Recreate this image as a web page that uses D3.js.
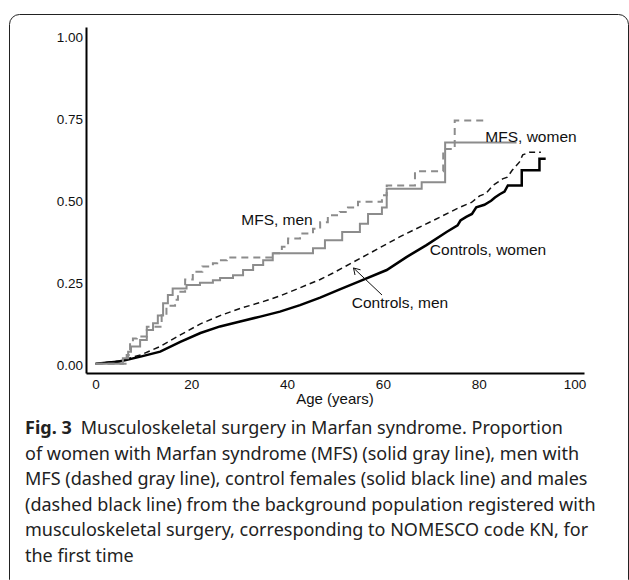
<!DOCTYPE html>
<html>
<head>
<meta charset="utf-8">
<script src="https://cdn.jsdelivr.net/npm/d3@7"></script>
<style>
  body { margin: 0; background: #fff; }
  svg { display: block; }
</style>
</head>
<body>
<svg id="chart" width="629" height="580"></svg>
<script>
// age (years), cumulative proportion
const mfsWomen = [
  [0, 0.003], [5.7, 0.02], [6.8, 0.04], [7.4, 0.056], [9.3, 0.076], [10.7, 0.106],
  [12.0, 0.127], [13.0, 0.15], [14.1, 0.188], [15.1, 0.213], [16.1, 0.233],
  [19.0, 0.243], [21.8, 0.25], [24.5, 0.258], [26.0, 0.265], [28.7, 0.273],
  [30.8, 0.289], [32.9, 0.304], [35.0, 0.319], [37.0, 0.34], [45.4, 0.355],
  [47.9, 0.38], [51.5, 0.405], [55.2, 0.43], [56.9, 0.46], [59.8, 0.48],
  [60.8, 0.537], [68.1, 0.557], [73.0, 0.678], [87.9, 0.678]
];
const mfsMen = [
  [0, 0.003], [6.5, 0.03], [7.2, 0.067], [7.8, 0.08], [8.6, 0.086], [10.7, 0.116],
  [13.8, 0.152], [14.8, 0.18], [16.6, 0.198], [17.2, 0.223], [18.7, 0.26],
  [20.3, 0.284], [22.3, 0.30], [24.5, 0.31], [25.4, 0.319], [27.4, 0.327],
  [37.0, 0.34], [38.9, 0.36], [40.2, 0.385], [42.7, 0.40], [45.4, 0.415],
  [46.9, 0.435], [48.5, 0.456], [51.0, 0.466], [52.7, 0.48], [54.8, 0.497],
  [59.8, 0.517], [60.8, 0.547], [66.7, 0.59], [72.6, 0.658], [75.0, 0.745], [81.1, 0.745]
];
const controlsWomen = [
  [0, 0.003], [5, 0.01], [9.4, 0.025], [13.5, 0.04], [17.7, 0.07], [21.9, 0.097],
  [26, 0.117], [30.2, 0.132], [34.4, 0.147], [38.5, 0.162], [42.7, 0.182],
  [46.9, 0.205], [51, 0.23], [55.2, 0.255], [60.8, 0.289], [65, 0.329],
  [69.1, 0.365], [73.3, 0.405], [75.6, 0.425], [76.2, 0.44], [77.4, 0.451],
  [78.6, 0.46], [79.5, 0.48], [81.2, 0.488], [82.6, 0.50], [83.4, 0.51],
  [84.4, 0.52], [85.4, 0.528], [86.1, 0.547], [89, 0.547], [89, 0.593],
  [92.7, 0.593], [92.7, 0.628], [94, 0.628]
];
const controlsMen = [
  [0, 0.003], [5, 0.012], [9.4, 0.03], [13.5, 0.056], [17.7, 0.091], [21.9, 0.125],
  [26, 0.15], [30.2, 0.172], [34.4, 0.19], [38.5, 0.21], [42.7, 0.235],
  [46.9, 0.26], [49.6, 0.28], [56.6, 0.335], [63.5, 0.39], [70.5, 0.44],
  [76, 0.48], [78.5, 0.495], [80.2, 0.515], [81.5, 0.522], [83, 0.547],
  [85, 0.567], [86, 0.572], [87, 0.593], [88.5, 0.618], [89.2, 0.64],
  [90.6, 0.648], [93, 0.648]
];
const xTicks = [0, 20, 40, 60, 80, 100];
const yTicks = [0, 0.25, 0.5, 0.75, 1];
const captionLines = [
  "Musculoskeletal surgery in Marfan syndrome. Proportion",
  "of women with Marfan syndrome (MFS) (solid gray line), men with",
  "MFS (dashed gray line), control females (solid black line) and males",
  "(dashed black line) from the background population registered with",
  "musculoskeletal surgery, corresponding to NOMESCO code KN, for",
  "the first time"
];

const svg = d3.select('#chart');

// frame
svg.append('rect')
  .attr('x', 9.5).attr('y', 14.5)
  .attr('width', 619).attr('height', 575)
  .attr('rx', 10)
  .attr('fill', 'none')
  .attr('stroke', '#222')
  .attr('stroke-width', 1);

const x = d3.scaleLinear().domain([-2, 102]).range([86, 584]);
const y = d3.scaleLinear().domain([-0.025, 1.03]).range([373, 27]);

const tickFont = 'Liberation Sans, Arial, sans-serif';

// y axis
const yAxis = svg.append('g')
  .attr('transform', 'translate(86,0)')
  .call(d3.axisLeft(y).tickValues(yTicks).tickFormat(d3.format('.2f')).tickSize(0).tickPadding(3));
yAxis.select('.domain').attr('stroke', '#000').attr('stroke-width', 2);
yAxis.selectAll('text').attr('font-family', tickFont).attr('font-size', 13.5).attr('fill', '#111');

// x axis
const xAxis = svg.append('g')
  .attr('transform', 'translate(0,373)')
  .call(d3.axisBottom(x).tickValues(xTicks).tickSize(0).tickPadding(6));
xAxis.select('.domain').attr('stroke', '#000').attr('stroke-width', 2);
xAxis.selectAll('text').attr('font-family', tickFont).attr('font-size', 13.5).attr('fill', '#111');

svg.append('text')
  .attr('x', x(50)).attr('y', 403.5)
  .attr('text-anchor', 'middle')
  .attr('font-family', tickFont).attr('font-size', 15)
  .attr('fill', '#111')
  .text('Age (years)');

const stepLine = d3.line().x(d => x(d[0])).y(d => y(d[1])).curve(d3.curveStepAfter);
const smoothLine = d3.line().x(d => x(d[0])).y(d => y(d[1]));

svg.append('path').attr('d', smoothLine(controlsMen))
  .attr('fill', 'none').attr('stroke', '#111').attr('stroke-width', 1.5)
  .attr('stroke-dasharray', '6,4');
svg.append('path').attr('d', smoothLine(controlsWomen))
  .attr('fill', 'none').attr('stroke', '#000').attr('stroke-width', 2.5);
svg.append('path').attr('d', stepLine(mfsWomen))
  .attr('fill', 'none').attr('stroke', '#8c8c8c').attr('stroke-width', 2);
svg.append('path').attr('d', stepLine(mfsMen))
  .attr('fill', 'none').attr('stroke', '#8c8c8c').attr('stroke-width', 2)
  .attr('stroke-dasharray', '7,5');

// series labels
const labels = [
  { t: 'MFS, men', x: 277, y: 224.5 },
  { t: 'MFS, women', x: 531, y: 141.5 },
  { t: 'Controls, women', x: 488, y: 254.5 },
  { t: 'Controls, men', x: 400, y: 308 }
];
svg.selectAll('.lbl').data(labels).enter().append('text')
  .attr('class', 'lbl')
  .attr('x', d => d.x).attr('y', d => d.y)
  .attr('text-anchor', 'middle')
  .attr('font-family', tickFont).attr('font-size', 15.5)
  .attr('fill', '#111')
  .text(d => d.t);

// arrow pointing at controls, men
svg.append('line')
  .attr('x1', 382).attr('y1', 295).attr('x2', 353.5).attr('y2', 268)
  .attr('stroke', '#111').attr('stroke-width', 1);
svg.append('path')
  .attr('d', 'M353.5,268 l1.5,7 M353.5,268 l7,1.8')
  .attr('fill', 'none').attr('stroke', '#111').attr('stroke-width', 1);

// caption
const cap = svg.append('text')
  .attr('font-family', 'Noto Sans, Open Sans, sans-serif')
  .attr('font-size', 18)
  .attr('fill', '#222');
captionLines.forEach((line, i) => {
  const t = cap.append('tspan').attr('x', 25).attr('y', 434 + i * 25.5);
  if (i === 0) {
    t.append('tspan').attr('font-weight', 'bold').text('Fig. 3');
    t.append('tspan').text('\u2002' + line);
  } else {
    t.text(line);
  }
});
</script>
</body>
</html>
